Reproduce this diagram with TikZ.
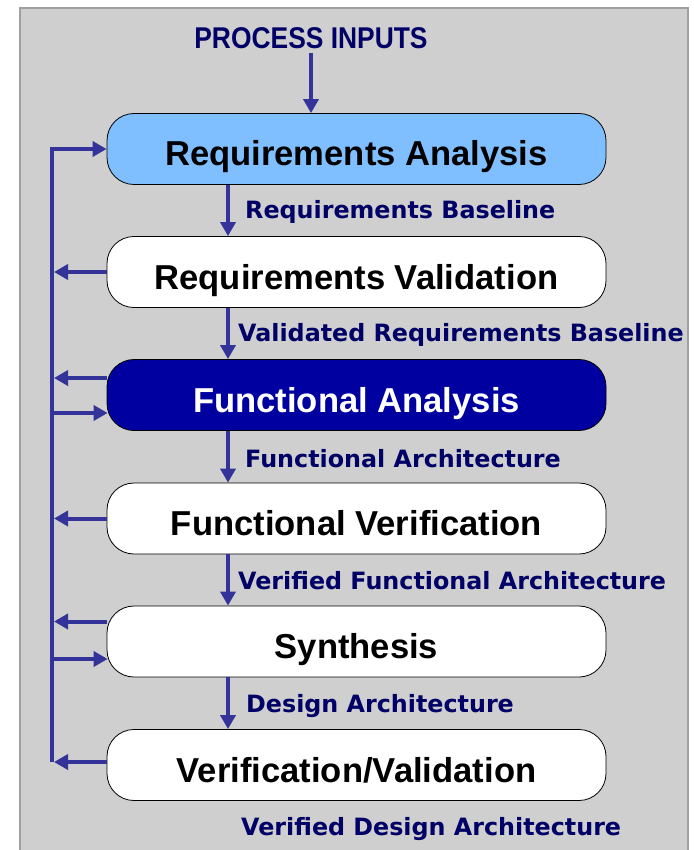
\documentclass[tikz,border=0pt]{standalone}
\usepackage{fontspec}
\setmainfont{Liberation Sans}
\newfontfamily\labelfont{DejaVu Sans}
\newfontfamily\narrowfont[FakeStretch=0.88]{Liberation Sans}
\usetikzlibrary{arrows.meta}
\definecolor{panelgray}{RGB}{207,207,207}
\definecolor{paneledge}{RGB}{160,160,160}
\definecolor{flowblue}{RGB}{51,51,153}
\definecolor{labelnavy}{RGB}{0,0,102}
\definecolor{reqblue}{RGB}{128,191,255}
\definecolor{funcblue}{RGB}{0,0,160}

\tikzset{
  stage/.style={draw=black, line width=0.8pt, fill=white, rounded corners=27pt,
    minimum width=499pt, minimum height=71pt, inner sep=0pt,
    text height=34pt, text depth=0pt,
    font=\fontsize{34.6}{40}\selectfont\bfseries},
  flow/.style={draw=flowblue, line width=4pt, ->},
  product/.style={text=labelnavy, anchor=west, inner sep=0pt,
    font=\labelfont\fontsize{23.8}{28}\selectfont\bfseries},
}

\begin{document}
\begin{tikzpicture}[x=1pt,y=-1pt,>={Triangle[length=14pt,width=15pt]}]
  \useasboundingbox (0,0) rectangle (693,850);
  \filldraw[fill=panelgray,draw=paneledge,line width=2pt] (20,8) rectangle (688,880);
  %stages
  \node[stage,fill=reqblue] (reqan) at (356.5,149) {Requirements Analysis};
  \node[stage] (reqval) at (356.5,272) {Requirements Validation};
  \node[stage,fill=funcblue,text=white] (funan) at (356.5,395) {Functional Analysis};
  \node[stage] (funver) at (356.5,518.5) {Functional Verification};
  \node[stage] (synth) at (356.5,641.5) {Synthesis};
  \node[stage] (verval) at (356.5,765) {Verification/Validation};
  %products
  \node[text=labelnavy,inner sep=0pt,font=\narrowfont\fontsize{30}{34}\selectfont\bfseries]
       (inputs) at (311,38) {PROCESS INPUTS};
  \node[product] (rbase) at (245,212) {Requirements Baseline};
  \node[product] (vrbase) at (238,335) {Validated Requirements Baseline};
  \node[product] (farch) at (245,459) {Functional Architecture};
  \node[product] (vfarch) at (238,581) {Verified Functional Architecture};
  \node[product] (darch) at (246,706) {Design Architecture};
  \node[product] (vdarch) at (241,829) {Verified Design Architecture};
  %main flow
  \coordinate (down) at (228,0);
  \coordinate (spine) at (52,0);
  \draw[flow] ([yshift=-4pt]inputs.south) -- (reqan.north -| inputs.south);
  \draw[flow] (reqan.south -| down) -- (reqval.north -| down);
  \draw[flow] (reqval.south -| down) -- (funan.north -| down);
  \draw[flow] (funan.south -| down) -- (funver.north -| down);
  \draw[flow] (funver.south -| down) -- (synth.north -| down);
  \draw[flow] (synth.south -| down) -- (verval.north -| down);
  %feedback
  \draw[draw=flowblue,line width=4pt] ([yshift=3pt]verval.west -| spine) -- (reqan.west -| spine);
  \draw[flow] ([xshift=-2pt]reqan.west -| spine) -- (reqan.west);
  \draw[flow] (reqval.west) -- ([xshift=2pt]reqval.west -| spine);
  \draw[flow] ([yshift=17pt]funan.west) -- ([yshift=17pt,xshift=2pt]funan.west -| spine);
  \draw[flow] ([yshift=-18pt]funan.west -| spine) -- ([yshift=-18pt,xshift=1pt]funan.west);
  \draw[flow] (funver.west) -- ([xshift=2pt]funver.west -| spine);
  \draw[flow] ([yshift=20pt]synth.west) -- ([yshift=20pt,xshift=2pt]synth.west -| spine);
  \draw[flow] ([yshift=-17.5pt]synth.west -| spine) -- ([yshift=-17.5pt,xshift=1pt]synth.west);
  \draw[flow] ([yshift=3pt]verval.west) -- ([yshift=3pt,xshift=2pt]verval.west -| spine);
\end{tikzpicture}
\end{document}
